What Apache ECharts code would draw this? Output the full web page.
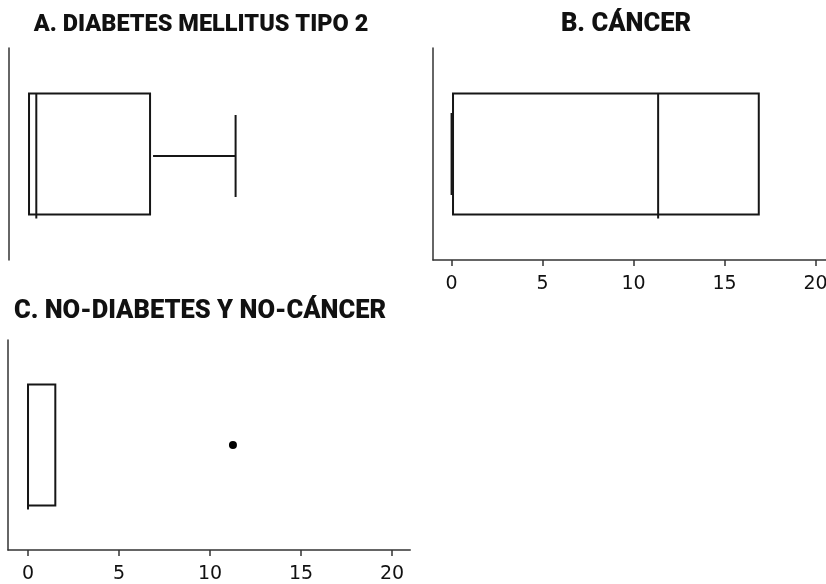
<!DOCTYPE html>
<html>
<head>
<meta charset="utf-8">
<script src="https://cdn.jsdelivr.net/npm/echarts@6/dist/echarts.min.js"></script>
<style>html,body{margin:0;padding:0;background:#fff}#c{width:826px;height:584px}</style>
</head>
<body>
<div id="c"></div>
<script>
// Panel titles
const titles = ['A. DIABETES MELLITUS TIPO 2', 'B. CÁNCER', 'C. NO-DIABETES Y NO-CÁNCER'];
// Box statistics per panel: [min, Q1, median, Q3, max]
const boxA = [0, 0, 0.4, 6.65, 11.35];
const boxB = [0, 0.08, 11.35, 16.88, 16.88];
const boxC = [0, 0, 0, 1.5, 1.5];
// Outliers (panel C)
const outliersC = [11.26];
// Tick labels of the x axis
const xTicks = [0, 5, 10, 15, 20];
const categories = ['grupo'];

const INK = '#161616';
const PX_PER_UNIT = 18.2;
const BOX_H = 121, CAP_H = 82;

function gridFor(left, top, height, xmin, xmax) {
  return { left: left, top: top, height: height, width: (xmax - xmin) * PX_PER_UNIT,
           containLabel: false, outerBoundsMode: 'none' };
}

const panels = [
  { xmin: -1.1, xmax: 21, grid: null, left: 9, top: 48, h: 212, showX: false, box: boxA, out: [] },
  { xmin: -1.02, xmax: 20.57, grid: null, left: 433, top: 48, h: 212, showX: true, box: boxB, out: [] },
  { xmin: -1.1, xmax: 21, grid: null, left: 8, top: 340, h: 210, showX: true, box: boxC, out: outliersC }
];
panels.forEach(p => { p.grid = gridFor(p.left, p.top, p.h, p.xmin, p.xmax); });

function renderBox(params, api) {
  const mn = api.value(1), q1 = api.value(2), md = api.value(3), q3 = api.value(4), mx = api.value(5);
  const yc = api.coord([q1, 0])[1];
  const X = v => api.coord([v, 0])[0];
  const st = { stroke: INK, lineWidth: 2, fill: null };
  const children = [
    { type: 'rect', shape: { x: X(q1), y: yc - BOX_H / 2, width: X(q3) - X(q1), height: BOX_H }, style: { stroke: INK, lineWidth: 2, fill: '#fff' } },
    { type: 'line', shape: { x1: X(md), y1: yc - BOX_H / 2, x2: X(md), y2: yc + BOX_H / 2 + 4 }, style: st }
  ];
  if (mx > q3) {
    children.push({ type: 'line', shape: { x1: X(q3) + 3, y1: yc + 2, x2: X(mx), y2: yc + 2 }, style: st });
    children.push({ type: 'line', shape: { x1: X(mx), y1: yc - CAP_H / 2 + 2, x2: X(mx), y2: yc + CAP_H / 2 + 2 }, style: st });
  }
  if (mn < q1) {
    children.push({ type: 'line', shape: { x1: X(mn), y1: yc, x2: X(q1), y2: yc }, style: st });
    children.push({ type: 'line', shape: { x1: X(mn), y1: yc - CAP_H / 2, x2: X(mn), y2: yc + CAP_H / 2 }, style: st });
  }
  return { type: 'group', children: children };
}

const titleStyle = size => ({ fontFamily: 'Roboto', fontWeight: 900, fontSize: size, color: '#111' });

const option = {
  animation: false,
  backgroundColor: '#fff',
  title: [
    { text: titles[0], left: 196, top: 8, textAlign: 'center', textStyle: titleStyle(23.5) },
    { text: titles[1], left: 621, top: 7, textAlign: 'center', textStyle: titleStyle(25.5) },
    { text: titles[2], left: 195, top: 294, textAlign: 'center', textStyle: titleStyle(25.5) }
  ],
  grid: panels.map(p => p.grid),
  xAxis: panels.map((p, i) => ({
    type: 'value', gridIndex: i, min: p.xmin, max: p.xmax,
    show: p.showX,
    splitLine: { show: false },
    axisLine: { show: true, onZero: false, lineStyle: { color: '#333', width: 1.5 } },
    axisTick: { show: true, customValues: xTicks, length: 6, lineStyle: { color: '#333', width: 1.5 } },
    axisLabel: { show: true, customValues: xTicks, margin: 15, fontFamily: 'DejaVu Sans', fontWeight: 500, fontSize: 19, color: '#111' }
  })),
  yAxis: panels.map((p, i) => ({
    type: 'category', gridIndex: i, data: categories,
    axisLine: { show: true, onZero: false, lineStyle: { color: '#333', width: 1.5 } },
    axisTick: { show: false }, axisLabel: { show: false }, splitLine: { show: false }
  })),
  series: []
};

panels.forEach((p, i) => {
  option.series.push({
    type: 'custom', xAxisIndex: i, yAxisIndex: i,
    encode: { x: [1, 2, 3, 4, 5], y: 0 },
    data: [[0].concat(p.box)],
    renderItem: renderBox
  });
  if (p.out.length) {
    option.series.push({
      type: 'scatter', xAxisIndex: i, yAxisIndex: i,
      symbol: 'circle', symbolSize: 8,
      itemStyle: { color: '#000', opacity: 1 },
      data: p.out.map(v => [v, 0])
    });
  }
});

const chart = echarts.init(document.getElementById('c'), null, { renderer: 'canvas' });
chart.setOption(option);
</script>
</body>
</html>
